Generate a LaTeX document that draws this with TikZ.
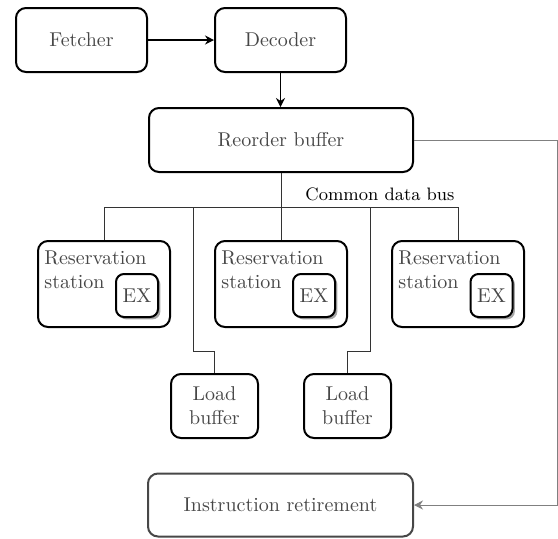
\documentclass[tikz,border=0pt]{standalone}
\usetikzlibrary{arrows.meta,calc,shadows}
\begin{document}
\begin{tikzpicture}[x=0.5pt,y=-0.5pt,
  box/.style={draw=black, line width=1pt, rounded corners=5pt, text=black!72, inner sep=0pt, align=center},
  irbox/.style={draw=black!72, line width=1pt, rounded corners=5pt, text=black!72, inner sep=0pt},
  exbox/.style={draw=black, line width=1pt, rounded corners=4pt, fill=white, text=black!72, inner sep=0pt,
    minimum width=21pt, minimum height=21.5pt,
    drop shadow={shadow xshift=1.2pt, shadow yshift=-1.2pt, fill=black!35, opacity=1}},
  rstext/.style={anchor=north west, align=left, inner sep=0pt, text=black!72},
  arr/.style={draw=black, line width=0.6pt, -{Stealth[length=4.5pt,width=4.5pt]}},
  bus/.style={draw=black!80, line width=0.45pt},
  retline/.style={draw=black!50, line width=0.5pt, -{Stealth[length=4.5pt,width=4.5pt]}}
]
\useasboundingbox (0,0) rectangle (558,538);

\node[box, minimum width=65.5pt, minimum height=32pt] (fetch) at (81.5,40) {Fetcher};
\node[box, minimum width=65.5pt, minimum height=32pt] (dec) at (280.5,40) {Decoder};
\node[box, minimum width=132pt, minimum height=32pt] (rob) at (281,140) {Reorder buffer};

\node[box, minimum width=66pt, minimum height=43pt] (rs1) at (104,284) {};
\node[box, minimum width=66pt, minimum height=43pt] (rs2) at (281,284) {};
\node[box, minimum width=66pt, minimum height=43pt] (rs3) at (458,284) {};

\node[rstext] (rs1t) at ($(rs1.north west)+(7,10)$) {Reservation\\station};
\node[rstext] (rs2t) at ($(rs2.north west)+(7,10)$) {Reservation\\station};
\node[rstext] (rs3t) at ($(rs3.north west)+(7,10)$) {Reservation\\station};

\node[exbox] (ex1) at (137,295.5) {EX};
\node[exbox] (ex2) at (314,295.5) {EX};
\node[exbox] (ex3) at (491.5,295.5) {EX};

\node[box, minimum width=43.5pt, minimum height=32pt] (lb1) at (214.5,406) {Load\\buffer};
\node[box, minimum width=43.5pt, minimum height=32pt] (lb2) at (347.5,406) {Load\\buffer};

\node[irbox, minimum width=132.5pt, minimum height=31.5pt] (ir) at (280.5,505) {Instruction retirement};

% connectors
\draw[arr] (fetch) -- (dec);
\draw[arr] (dec.south) -- (dec.south |- rob.north);

\coordinate (busy) at (0,207);
\draw[bus] (rob.south) -- (rob.south |- busy);
\draw[bus] (rs1.north) |- (rs3.north |- busy) -- (rs3.north);
\draw[bus] (rs2.north) -- (rs2.north |- busy);

\coordinate (d1) at (193,207);
\coordinate (k1) at (193,351);
\coordinate (d2) at (370,207);
\coordinate (k2) at (370,351);
\draw[bus] (d1) -- (k1) -| (lb1.north);
\draw[bus] (d2) -- (k2) -| (lb2.north);

\node[font=\small, anchor=base west, inner sep=0pt] (cdb) at (305,200) {Common data bus};

\coordinate (rx) at (557,0);
\draw[retline] (rob.east) -| (rx |- ir.east) -- (ir.east);
\end{tikzpicture}
\end{document}
